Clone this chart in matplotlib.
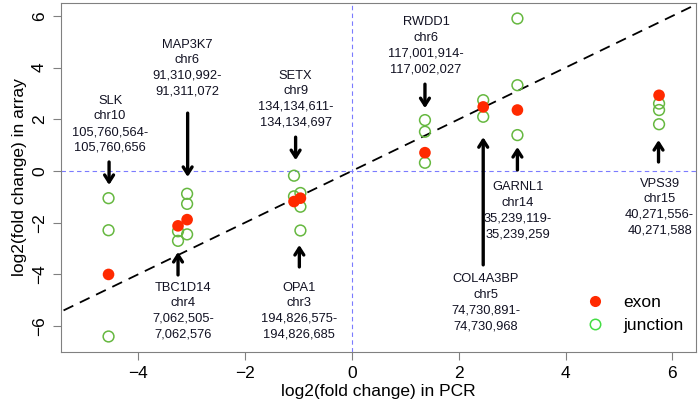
import matplotlib
matplotlib.use("Agg")
import matplotlib.pyplot as plt
from matplotlib.lines import Line2D

plt.rcParams['font.family'] = ['Liberation Sans', 'DejaVu Sans']

# exon points (PCR, array)
exon_x = [-4.55, -3.25, -3.08, -1.08, -0.96, 1.37, 2.46, 3.10, 5.75]
exon_y = [-4.00, -2.12, -1.88, -1.18, -1.05, 0.71, 2.48, 2.36, 2.93]

# junction points
junc_x = [-4.55, -4.55, -4.55,
          -3.08, -3.08, -3.08, -3.25, -3.25,
          -1.08, -0.96, -1.08, -0.96, -0.96,
          1.37, 1.37, 1.37,
          2.46, 2.46,
          3.10, 3.10, 3.10,
          5.75, 5.75, 5.75]
junc_y = [-1.05, -2.29, -6.40,
          -0.88, -1.27, -2.45, -2.33, -2.70,
          -0.18, -0.85, -0.98, -1.38, -2.30,
          1.97, 1.52, 0.32,
          2.74, 2.10,
          5.90, 3.32, 1.39,
          2.61, 2.36, 1.81]

# gene labels: text, text centre, arrow start, arrow end
labels = ["SLK\nchr10\n105,760,564-\n105,760,656",
          "MAP3K7\nchr6\n91,310,992-\n91,311,072",
          "SETX\nchr9\n134,134,611-\n134,134,697",
          "RWDD1\nchr6\n117,001,914-\n117,002,027",
          "COL4A3BP\nchr5\n74,730,891-\n74,730,968",
          "GARNL1\nchr14\n35,239,119-\n35,239,259",
          "VPS39\nchr15\n40,271,556-\n40,271,588",
          "TBC1D14\nchr4\n7,062,505-\n7,062,576",
          "OPA1\nchr3\n194,826,575-\n194,826,685"]
label_x = [-4.52, -3.08, -1.05, 1.39, 2.51, 3.11, 5.76, -3.15, -0.99]
label_y = [1.81, 3.98, 2.78, 4.85, -5.10, -1.54, -1.39, -5.42, -5.42]
arrow_x = [-4.54, -3.07, -1.05, 1.37, 2.46, 3.10, 5.74, -3.25, -0.98]
arrow_y0 = [0.35, 2.24, 1.31, 3.36, -3.63, 0.04, 0.35, -4.02, -3.71]
arrow_y1 = [-0.54, -0.23, 0.42, 2.43, 1.31, 0.93, 1.20, -3.13, -2.86]

fig = plt.figure(figsize=(7, 4.15), dpi=100)
ax = fig.add_axes([0.0871, 0.1518, 0.9071, 0.8410])

ax.axhline(0, color='#7b7bff', lw=0.8, ls=(0, (4, 3)), zorder=1)
ax.axvline(0, color='#7b7bff', lw=0.8, ls=(0, (4, 3)), zorder=1)
ax.plot([-6, 7], [-6, 7], color='black', lw=1.3, ls=(0, (6, 4)), zorder=2)

ax.scatter(junc_x, junc_y, s=60, facecolors='none', edgecolors='#66b840',
           linewidths=1.1, zorder=3)
ax.scatter(exon_x, exon_y, s=70, color='#ff2a00', edgecolors='none', zorder=4)

for t, tx, ty, axx, a0, a1 in zip(labels, label_x, label_y, arrow_x, arrow_y0, arrow_y1):
    ax.text(tx, ty, t, ha='center', va='center', fontsize=9.3, linespacing=1.4,
            color='#111122')
    ax.annotate('', xy=(axx, a1), xytext=(axx, a0),
                arrowprops=dict(arrowstyle='->, head_length=0.5, head_width=0.32',
                                lw=2.4, color='black', shrinkA=0, shrinkB=0))

ax.set_xlim(-5.44, 6.44)
ax.set_ylim(-7.0, 6.5)
ax.set_xticks([-4, -2, 0, 2, 4, 6])
ax.set_yticks([-6, -4, -2, 0, 2, 4, 6])
for lab in ax.get_yticklabels():
    lab.set_rotation(90)
    lab.set_va('center')
ax.tick_params(direction='out', length=6, color='#808080', labelsize=12.5, pad=4)
for s in ax.spines.values():
    s.set_color('#808080')
ax.set_xlabel('log2(fold change) in PCR', fontsize=12.5, labelpad=2)
ax.set_ylabel('log2(fold change) in array', fontsize=12.5, labelpad=4)

handles = [Line2D([], [], marker='o', ls='none', color='#ff2a00', markersize=8,
                  markeredgecolor='none'),
           Line2D([], [], marker='o', ls='none', markerfacecolor='none',
                  markeredgecolor='#44dd44', markersize=7.5, markeredgewidth=1.1)]
ax.legend(handles, ['exon', 'junction'], loc='lower right', frameon=False,
          fontsize=12.5, handletextpad=0.6, labelspacing=0.45,
          bbox_to_anchor=(1.005, 0.01))

fig.savefig('out.png', dpi=100)
